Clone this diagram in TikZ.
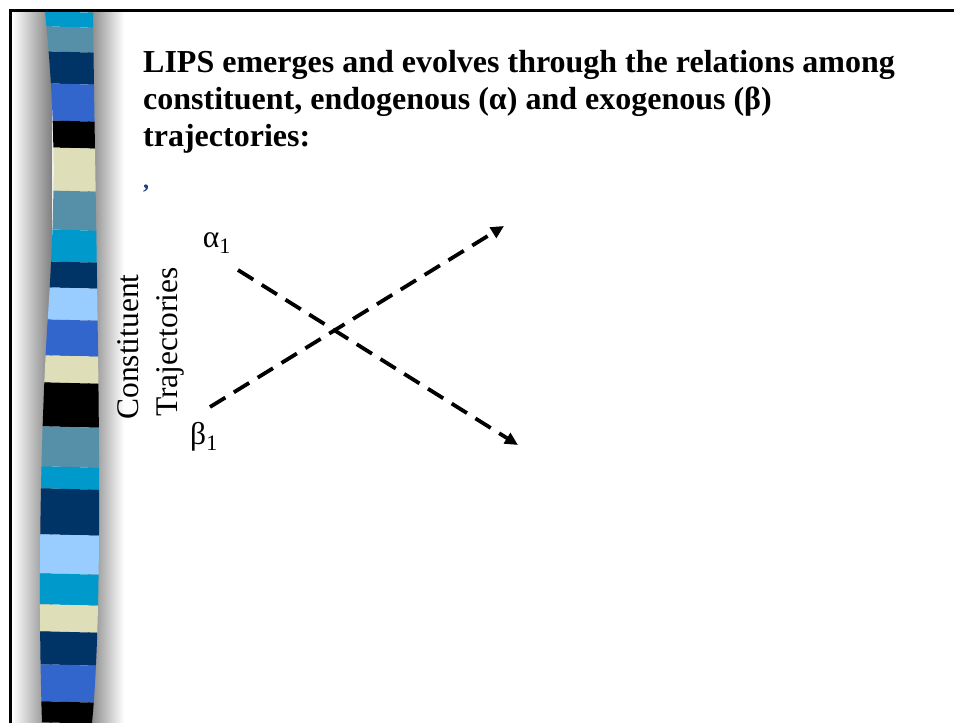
\documentclass[tikz,border=0pt]{standalone}
\usepackage{fontspec}
\setmainfont{Liberation Serif}
\usepackage{xcolor}
\usetikzlibrary{arrows.meta}

\definecolor{bcyan}{HTML}{0099CC}
\definecolor{bsteel}{HTML}{5690A8}
\definecolor{bnavy}{HTML}{003366}
\definecolor{broyal}{HTML}{3366CC}
\definecolor{bcream}{HTML}{DEDFB8}
\definecolor{blight}{HTML}{99CCFF}
\definecolor{commablue}{HTML}{1F3F80}

\begin{document}
\begin{tikzpicture}[x=1pt, y=-1pt,
  ttl/.style  = {anchor=base west, inner sep=0pt,
                 font=\fontsize{32}{37}\selectfont\bfseries},
  lbl/.style  = {inner sep=0pt, font=\fontsize{31.5}{34}\selectfont},
  darr/.style = {-{Triangle[length=13pt,width=12pt]}, line width=3.8pt,
                 dash pattern=on 18pt off 10pt},
]
\useasboundingbox (0,0) rectangle (954,723);

%% Frame and shadow
\shade[left color=white, right color=black!50] (12,12) rectangle (52,723);
\shade[left color=black!50, right color=white] (88,12) rectangle (124,723);
\draw[line width=2.5pt] (10.5,723) -- (10.5,10.5) -- (954,10.5);

%% Striped bar
\begin{scope}
  \clip (45,12) .. controls (56,120) and (56,200) .. (47,330)
        .. controls (40,450) and (38,600) .. (42,723)
        -- (92,723) .. controls (100,640) and (100,500) .. (98,350)
        .. controls (96,200) and (94,100) .. (93,12) -- cycle;
  \foreach \ya/\yb/\col in {12/27/bcyan, 27/52/bsteel, 52/84/bnavy,
      84/121/broyal, 121/148/black, 148/191/bcream, 191/230/bsteel,
      230/262/bcyan, 262/288/bnavy, 288/320/blight, 320/356/broyal,
      356/383/bcream, 383/427/black, 427/467/bsteel, 467/489/bcyan,
      489/535/bnavy, 535/574/blight, 574/605/bcyan, 605/632/bcream,
      632/665/bnavy, 665/702/broyal, 702/723/black}
    \fill[\col] (30,\ya-1) -- (110,\ya+1) -- (110,\yb+1) -- (30,\yb-1) -- cycle;
\end{scope}

%% Title
\node[ttl] (t1) at (143,72)  {LIPS emerges and evolves through the relations among};
\node[ttl] (t2) at (143,109) {constituent, endogenous (α) and exogenous (β)};
\node[ttl] (t3) at (143,146) {trajectories:};
\node[anchor=base, inner sep=0pt, text=commablue,
      font=\fontsize{24}{24}\selectfont\bfseries] (cm) at (146,188) {,};

%% Trajectories
\node[lbl, rotate=90] (con) at (128,347) {Constituent};
\node[lbl, rotate=90] (tra) at (170,342) {Trajectories};
\node[lbl] (al) at (217,243) {α\textsubscript{1}};
\node[lbl] (be) at (204,437) {β\textsubscript{1}};

\coordinate (a0) at (238,270);
\coordinate (a1) at (518,445);
\coordinate (b0) at (210,407);
\coordinate (b1) at (504,226);
\draw[darr] (a0) -- (a1);
\draw[darr] (b0) -- (b1);

\end{tikzpicture}
\end{document}
